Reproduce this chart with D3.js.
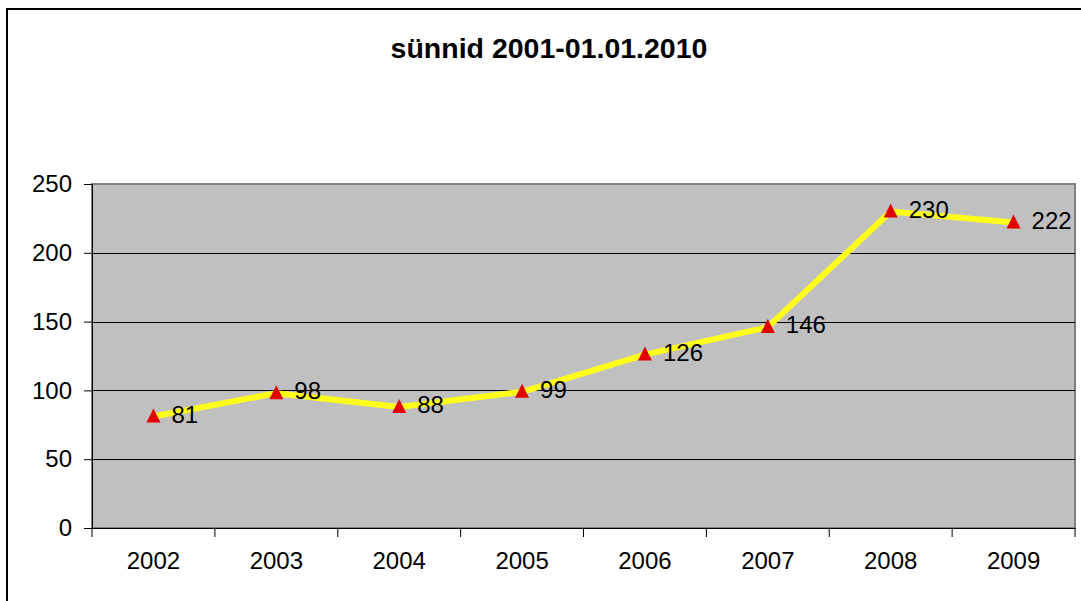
<!DOCTYPE html>
<html lang="et">
<head>
<meta charset="UTF-8">
<title>sünnid</title>
<script src="https://d3js.org/d3.v7.min.js"></script>
<style>
    html, body { margin: 0; background: #fff; }
    svg { display: block; font-family: Arial, 'Liberation Sans', sans-serif; }
</style>
</head>
<body>
<svg width="1081" height="601"></svg>
<script>
    // Data
    const years = ["2002", "2003", "2004", "2005", "2006", "2007", "2008", "2009"];
    const births = [81, 98, 88, 99, 126, 146, 230, 222];
    const yTicks = [0, 50, 100, 150, 200, 250];
    const title = "sünnid 2001-01.01.2010";

    const svg = d3.select("svg");
    const plot = { left: 92, top: 184, right: 1075, bottom: 528 };
    const font = "Arial, 'Liberation Sans', sans-serif";

    // outer chart border
    svg.append("rect")
        .attr("x", 7).attr("y", 9)
        .attr("width", 1100).attr("height", 620)
        .attr("fill", "#fff")
        .attr("stroke", "#000")
        .attr("stroke-width", 2);

    svg.append("text")
        .attr("x", 549).attr("y", 58)
        .attr("text-anchor", "middle")
        .attr("font-size", 28.5)
        .attr("font-weight", "bold")
        .text(title);

    const x = d3.scaleBand().domain(years).range([plot.left, plot.right]);
    const y = d3.scaleLinear().domain([0, 250]).range([plot.bottom, plot.top]);

    // plot area
    svg.append("rect")
        .attr("x", plot.left).attr("y", plot.top)
        .attr("width", plot.right - plot.left).attr("height", plot.bottom - plot.top)
        .attr("fill", "#c0c0c0")
        .attr("stroke", "#808080")
        .attr("stroke-width", 2);

    // gridlines
    svg.append("g")
        .selectAll("line")
        .data(yTicks.filter(d => d > 0 && d < 250))
        .enter().append("line")
        .attr("x1", plot.left).attr("x2", plot.right)
        .attr("y1", d => Math.round(y(d)) + 0.5).attr("y2", d => Math.round(y(d)) + 0.5)
        .attr("stroke", "#000").attr("stroke-width", 1);

    // y axis
    const yAxis = svg.append("g")
        .attr("transform", `translate(${plot.left},0)`)
        .call(d3.axisLeft(y).tickValues(yTicks).tickSize(8).tickPadding(12));
    yAxis.selectAll("text").attr("font-size", 24).attr("font-family", font).attr("fill", "#000");

    // x axis
    const xAxis = svg.append("g")
        .attr("transform", `translate(0,${plot.bottom})`)
        .call(d3.axisBottom(x).tickSize(0).tickPadding(24));
    xAxis.selectAll("text").attr("font-size", 24).attr("font-family", font).attr("fill", "#000");
    xAxis.selectAll(".tick line").remove();
    xAxis.append("g")
        .selectAll("line")
        .data(years.map(d => x(d)).concat([plot.right]))
        .enter().append("line")
        .attr("x1", d => d).attr("x2", d => d)
        .attr("y1", 0).attr("y2", 9)
        .attr("stroke", "#000");

    // series line
    const cx = d => x(d) + x.bandwidth() / 2;
    const line = d3.line()
        .x((d, i) => cx(years[i]))
        .y(d => y(d));
    svg.append("path")
        .datum(births)
        .attr("d", line)
        .attr("fill", "none")
        .attr("stroke", "#ffff1a")
        .attr("stroke-width", 6)
        .attr("stroke-linejoin", "round");

    // markers
    svg.append("g")
        .selectAll("path")
        .data(births)
        .enter().append("path")
        .attr("transform", (d, i) => `translate(${cx(years[i])},${y(d)})`)
        .attr("d", "M0,-8 L7,6 L-7,6 Z")
        .attr("fill", "#e00000");

    // data labels
    svg.append("g")
        .selectAll("text")
        .data(births)
        .enter().append("text")
        .attr("x", (d, i) => cx(years[i]) + 18)
        .attr("y", d => y(d) + 6)
        .attr("font-size", 24)
        .text(d => d);
</script>
</body>
</html>
